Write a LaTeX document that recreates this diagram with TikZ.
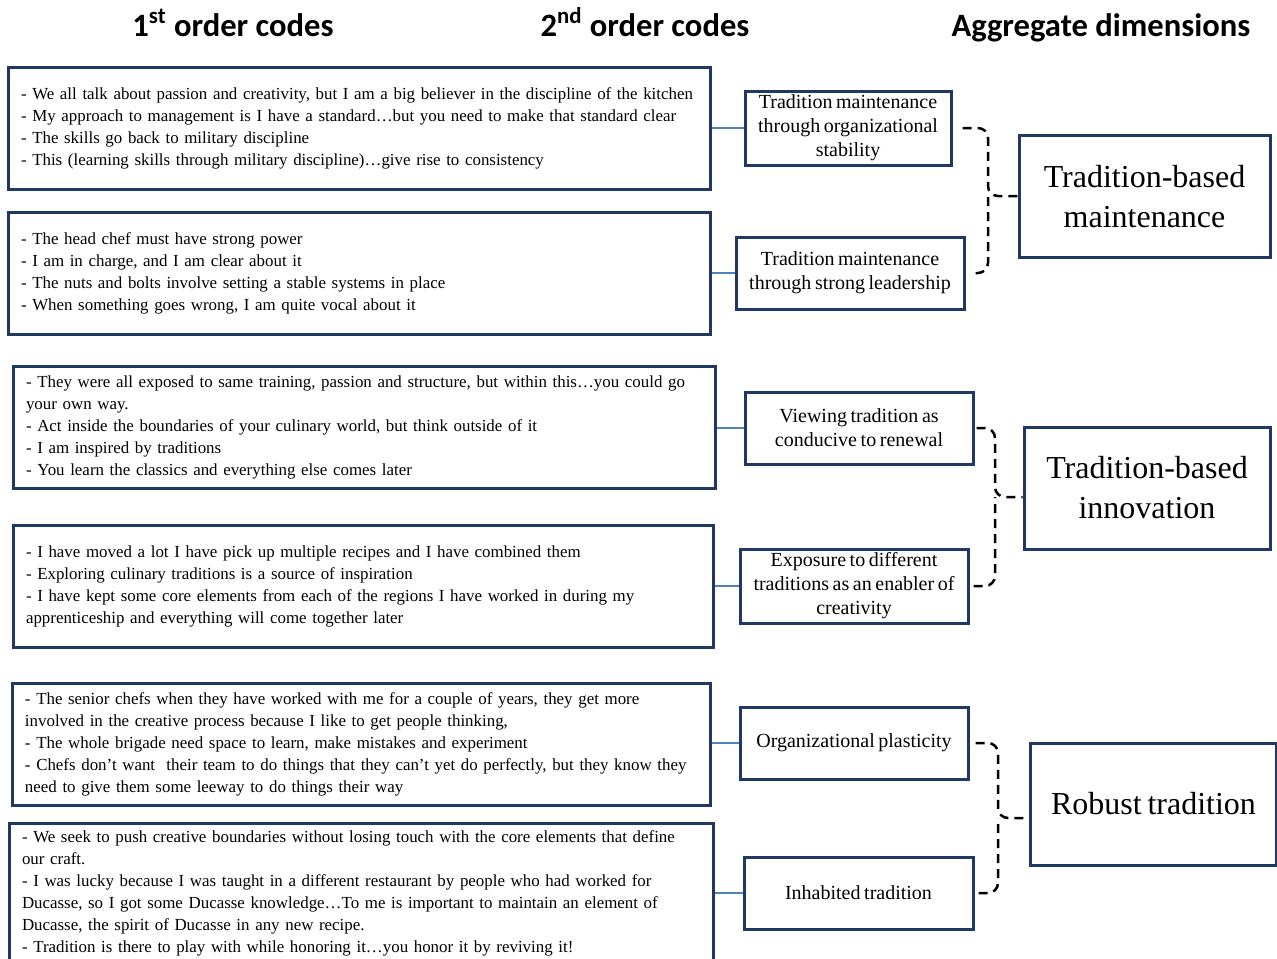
\documentclass[tikz,border=0pt]{standalone}
\usepackage{fontspec}
\setmainfont{Liberation Serif}[WordSpace=0.72]
\newfontfamily\headfont{Carlito}
\usetikzlibrary{calc}
\definecolor{navy}{HTML}{1F3864}
\definecolor{lnkblue}{HTML}{4F81BD}

\begin{document}
\begin{tikzpicture}[x=0.5pt, y=-0.5pt,
  head/.style={anchor=base, font=\headfont\bfseries\fontsize{16.3}{19}\selectfont},
  quote/.style={draw=navy, line width=1.5pt, align=left, inner xsep=6.5pt, minimum height=61pt, font=\fontsize{8.45}{11}\selectfont},
  code/.style={draw=navy, line width=1.5pt, align=center, inner sep=1pt, minimum height=36pt, font=\fontsize{10}{12}\selectfont},
  dimn/.style={draw=navy, line width=1.5pt, align=center, minimum width=123pt, minimum height=61pt, font=\fontsize{16}{20}\selectfont},
  lnk/.style={draw=lnkblue, line width=0.6pt},
  brc/.style={line width=1.25pt, dash pattern=on 4.5pt off 3pt, rounded corners=5pt}]
\useasboundingbox (0,0) rectangle (1277,958);
% column heads
\node[head] (h1) at (233,36) {1\textsuperscript{st} order codes};
\node[head] (h2) at (645,36) {2\textsuperscript{nd} order codes};
\node[head] (h3) at (1101,36) {Aggregate dimensions};
% 1st order codes
\node[quote, text width=338pt] (c1) at (359,128) {- We all talk about passion and creativity, but I am a big believer in the discipline of the kitchen\\- My approach to management is I have a standard…but you need to make that standard clear\\- The skills go back to military discipline\\- This (learning skills through military discipline)…give rise to consistency};
\node[quote, text width=338pt] (c2) at (359,273.5) {- The head chef must have strong power\\- I am in charge, and I am clear about it\\- The nuts and bolts involve setting a stable systems in place\\- When something goes wrong, I am quite vocal about it};
\node[quote, text width=338pt] (c3) at (364,427) {- They were all exposed to same training, passion and structure, but within this…you could go\\your own way.\\- Act inside the boundaries of your culinary world, but think outside of it\\- I am inspired by traditions\\- You learn the classics and everything else comes later};
\node[quote, text width=337pt] (c4) at (363,586) {- I have moved a lot I have pick up multiple recipes and I have combined them\\- Exploring culinary traditions is a source of inspiration\\- I have kept some core elements from each of the regions I have worked in during my\\apprenticeship and everything will come together later};
\node[quote, text width=336pt] (c5) at (361,744) {- The senior chefs when they have worked with me for a couple of years, they get more\\involved in the creative process because I like to get people thinking,\\- The whole brigade need space to learn, make mistakes and experiment\\- Chefs don’t want\ \ their team to do things that they can’t yet do perfectly, but they know they\\need to give them some leeway to do things their way};
\node[quote, text width=339pt, minimum height=68pt] (c6) at (361,893) {- We seek to push creative boundaries without losing touch with the core elements that define\\our craft.\\- I was lucky because I was taught in a different restaurant by people who had worked for\\Ducasse, so I got some Ducasse knowledge…To me is important to maintain an element of\\Ducasse, the spirit of Ducasse in any new recipe.\\- Tradition is there to play with while honoring it…you honor it by reviving it!};
% 2nd order codes
\node[code, minimum width=103pt, minimum height=37pt] (s1) at (848,128) {Tradition maintenance\\through organizational\\stability};
\node[code, minimum width=114pt] (s2) at (850,273) {Tradition maintenance\\through strong leadership};
\node[code, minimum width=114pt] (s3) at (859,428) {Viewing tradition as\\conducive to renewal};
\node[code, minimum width=114pt, minimum height=37pt] (s4) at (854,586) {Exposure to different\\traditions as an enabler of\\creativity};
\node[code, minimum width=114pt] (s5) at (854,743) {Organizational plasticity};
\node[code, minimum width=114.5pt] (s6) at (858.5,893) {Inhabited tradition};
\foreach \a/\b in {c1/s1, c2/s2, c3/s3, c4/s4, c5/s5, c6/s6} \draw[lnk] (\a.east |- \b.west) -- (\b.west);
% aggregate dimensions
\node[dimn, minimum width=125.5pt] (d1) at (1144.5,196.5) {Tradition-based\\maintenance};
\node[dimn] (d2) at (1147,488) {Tradition-based\\innovation};
\node[dimn] (d3) at (1153.5,804) {Robust tradition};
% brackets
\coordinate (k1) at (988,196);
\coordinate (k2) at (995,497);
\coordinate (k3) at (998,818);
\draw[brc] ([xshift=5pt]s1.east) -| (k1) -- (k1 -| d1.west);
\draw[brc] ([xshift=5pt]s2.east) -| (k1);
\draw[brc] ([xshift=1pt]s3.east) -| (k2) -- (k2 -| d2.west);
\draw[brc] ([xshift=2pt]s4.east) -| (k2);
\draw[brc] ([xshift=3pt]s5.east) -| (k3) -- (k3 -| d3.west);
\draw[brc] ([xshift=2pt]s6.east) -| (k3);
\end{tikzpicture}
\end{document}
